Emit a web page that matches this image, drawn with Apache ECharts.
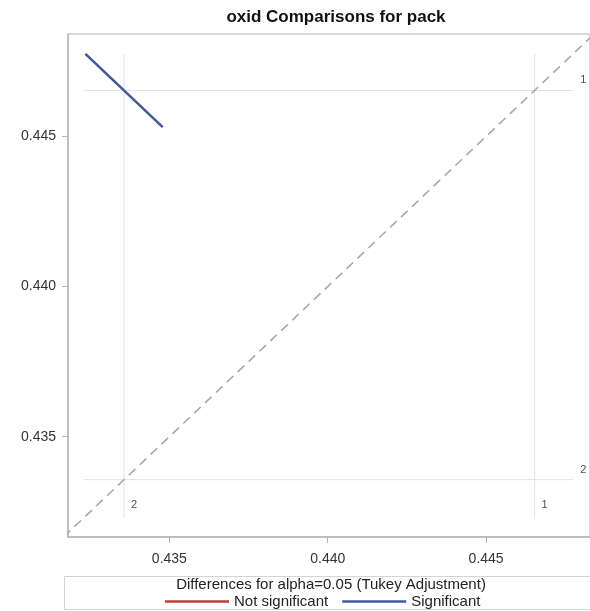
<!DOCTYPE html>
<html>
<head>
<meta charset="utf-8">
<script src="https://cdn.jsdelivr.net/npm/echarts@6/dist/echarts.min.js"></script>
<style>
  html, body { margin: 0; padding: 0; background: #fff; }
  #chart { width: 590px; height: 611px; }
</style>
</head>
<body>
<div id="chart"></div>
<script>
// Levels of pack and their LS means of oxid
const levels = ['1', '2'];
const lsMeans = [0.44653, 0.43357];

// Tukey-adjusted comparison 1 vs 2, drawn centred at (mean 2, mean 1)
const segX = [0.43235, 0.43479];
const segY = [0.44775, 0.44531];
const segSignificant = [true];

// Extent of the reference lines
const refRange = [0.43230, 0.44775];

// Axis tick values
const xTicks = [0.435, 0.440, 0.445];
const yTicks = [0.435, 0.440, 0.445];
const xRange = [0.43180, 0.44828];
const yRange = [0.43166, 0.44841];

const SIG = '#445a96';
const NONSIG = '#b8413a';
const REF = '#e2e2e2';
const FONT = '"Liberation Sans", Arial, sans-serif';

const series = [];

// y = x diagonal
series.push({
  type: 'line', silent: true, symbol: 'none', z: 3,
  data: [[Math.min(xRange[0], yRange[0]), Math.min(xRange[0], yRange[0])],
         [Math.max(xRange[1], yRange[1]), Math.max(xRange[1], yRange[1])]],
  lineStyle: { color: '#a8a8a8', width: 1.6, type: [9, 6] }
});

// Reference lines at each LS mean
lsMeans.forEach((m) => {
  series.push({
    type: 'line', silent: true, symbol: 'none', z: 1,
    data: [[refRange[0], m], [refRange[1], m]],
    lineStyle: { color: REF, width: 1 }
  });
  series.push({
    type: 'line', silent: true, symbol: 'none', z: 1,
    data: [[m, refRange[0]], [m, refRange[1]]],
    lineStyle: { color: REF, width: 1 }
  });
});

// Level labels at the ends of the reference lines
series.push({
  type: 'scatter', silent: true, symbolSize: 0, z: 4,
  data: lsMeans.map((m, i) => ({ value: [refRange[1], m], name: levels[i] })),
  label: { show: true, formatter: '{b}', position: 'right', offset: [2, -10],
           fontFamily: FONT, fontSize: 11, color: '#222' }
});
series.push({
  type: 'scatter', silent: true, symbolSize: 0, z: 4,
  data: lsMeans.map((m, i) => ({ value: [m, refRange[0]], name: levels[i] })),
  label: { show: true, formatter: '{b}', position: 'right', offset: [2, -13],
           fontFamily: FONT, fontSize: 11, color: '#222' }
});

// Comparison segments
segSignificant.forEach((sig, i) => {
  series.push({
    name: sig ? 'Significant' : 'Not significant',
    type: 'line', symbol: 'none', z: 5,
    data: [[segX[2 * i], segY[2 * i]], [segX[2 * i + 1], segY[2 * i + 1]]],
    lineStyle: { color: sig ? SIG : NONSIG, width: 2.6 },
    itemStyle: { color: sig ? SIG : NONSIG }
  });
});
// Legend entry for the other category
series.push({
  name: 'Not significant', type: 'line', symbol: 'none', data: [],
  lineStyle: { color: NONSIG, width: 2.6 }, itemStyle: { color: NONSIG }
});

const chart = echarts.init(document.getElementById('chart'), null, { renderer: 'canvas' });
chart.setOption({
  animation: false,
  backgroundColor: '#fff',
  title: {
    text: 'oxid Comparisons for pack',
    left: 331, top: 4, textAlign: 'center',
    textStyle: { fontFamily: FONT, fontSize: 17, fontWeight: 'bold', color: '#111' }
  },
  grid: {
    left: 68, right: -2, top: 34, bottom: 74,
    show: true, borderColor: '#b4b4b4', borderWidth: 1, backgroundColor: 'transparent'
  },
  xAxis: {
    type: 'value', min: xRange[0], max: xRange[1],
    axisLine: { show: true, lineStyle: { color: '#b4b4b4', width: 1.5 } },
    axisTick: { show: true, customValues: xTicks, length: 6, lineStyle: { color: '#b4b4b4' } },
    axisLabel: { customValues: xTicks, formatter: v => v.toFixed(3), margin: 15,
                 fontFamily: FONT, fontSize: 14, color: '#333' },
    splitLine: { show: false }
  },
  yAxis: {
    type: 'value', min: yRange[0], max: yRange[1],
    axisLine: { show: true, lineStyle: { color: '#b4b4b4', width: 1.5 } },
    axisTick: { show: true, customValues: yTicks, length: 6, lineStyle: { color: '#b4b4b4' } },
    axisLabel: { customValues: yTicks, formatter: v => v.toFixed(3), margin: 12,
                 fontFamily: FONT, fontSize: 14, color: '#333' },
    splitLine: { show: false }
  },
  legend: {
    data: ['Not significant', 'Significant'],
    left: 160, top: 589,
    icon: 'rect', itemWidth: 64, itemHeight: 2.5, itemGap: 14,
    textStyle: { fontFamily: FONT, fontSize: 15, color: '#222' }
  },
  graphic: [
    {
      type: 'rect', silent: true,
      shape: { x: 64.5, y: 576.5, width: 540, height: 33 },
      style: { fill: 'none', stroke: '#d4d4d4', lineWidth: 1 }
    },
    {
      type: 'text', silent: true, x: 331, y: 577,
      style: { text: 'Differences for alpha=0.05 (Tukey Adjustment)', textAlign: 'center',
               fontFamily: FONT, fontSize: 15, fill: '#222' }
    }
  ],
  series: series
});
</script>
</body>
</html>
